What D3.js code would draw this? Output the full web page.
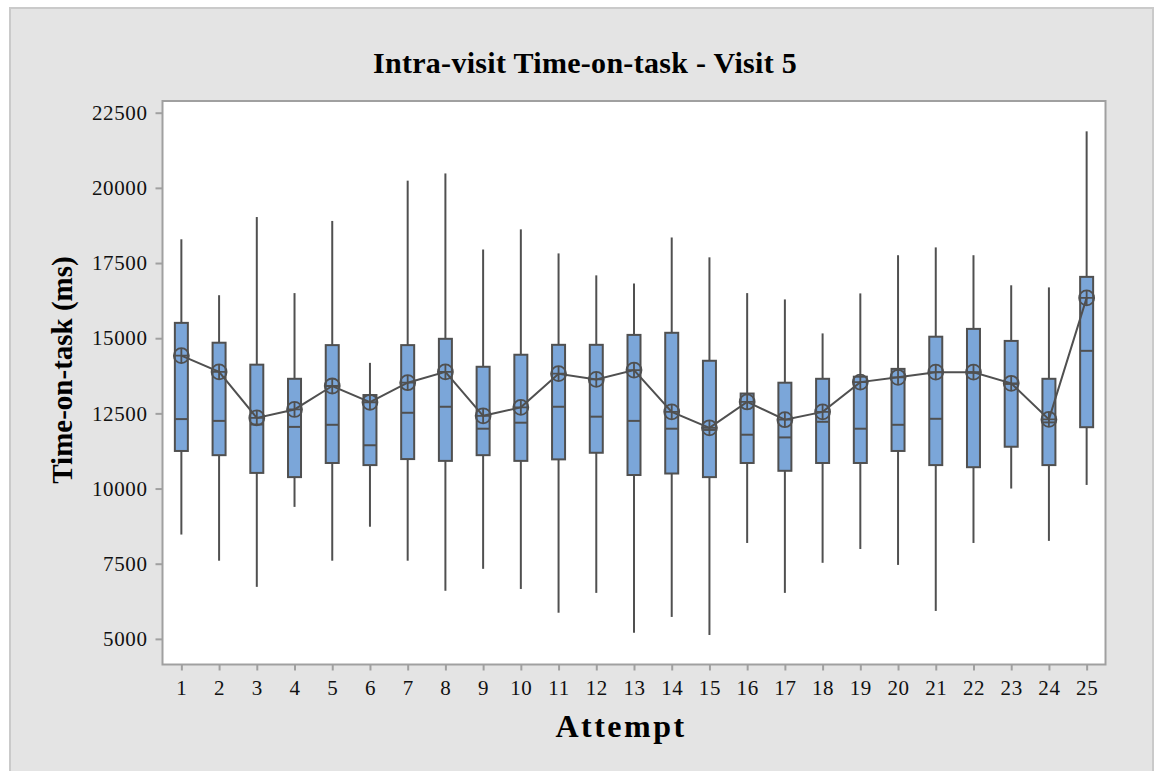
<!DOCTYPE html>
<html>
<head>
<meta charset="utf-8">
<script src="https://cdn.jsdelivr.net/npm/d3@7"></script>
<style>
    body { margin: 0; background: #ffffff; }
    svg { display: block; }
    .axis-group path, .axis-group line { stroke: #a0a0a0; stroke-width: 2; }
    .axis-group text { font-family: "Liberation Serif", "Times New Roman", serif; font-size: 21px; letter-spacing: 0.6px; fill: #111; }
</style>
</head>
<body>
<svg id="chart" width="1156" height="771"></svg>
<script>

// Data (ms)
const attempts    = d3.range(1, 26);
const whiskerHigh = [18290, 16430, 19030, 16500, 18900, 14180, 20240, 20480, 17950, 18620,
                     17820, 17090, 16820, 18350, 17690, 16500, 16290, 15160, 16490, 17760,
                     18020, 17760, 16760, 16690, 21880];
const q3          = [15510, 14850, 14120, 13650, 14770, 13110, 14770, 14980, 14050, 14450,
                     14780, 14780, 15110, 15180, 14250, 13160, 13520, 13650, 13720, 13980,
                     15050, 15310, 14910, 13650, 17040];
const medians     = [12310, 12250, 12130, 12050, 12120, 11440, 12520, 12720, 11990, 12190,
                     12720, 12390, 12250, 11990, 11950, 11790, 11700, 12220, 11990, 12120,
                     12320, 13850, 13480, 12200, 14580];
const q1          = [11250, 11110, 10520, 10380, 10850, 10780, 10980, 10920, 11110, 10920,
                     10970, 11190, 10450, 10500, 10380, 10850, 10590, 10850, 10850, 11250,
                     10780, 10710, 11390, 10780, 12040];
const whiskerLow  = [8470, 7600, 6730, 9390, 7600, 8730, 7600, 6600, 7330, 6660,
                     5870, 6530, 5200, 5730, 5130, 8190, 6530, 7530, 7990, 7460,
                     5930, 8190, 10000, 8260, 10120];
const means       = [14420, 13880, 12350, 12630, 13410, 12870, 13520, 13880, 12420, 12700,
                     13820, 13630, 13940, 12550, 12020, 12880, 12290, 12550, 13540, 13700,
                     13870, 13870, 13500, 12300, 16340];
const yTicks      = [5000, 7500, 10000, 12500, 15000, 17500, 20000, 22500];

const rows = attempts.map((a, i) => ({
    attempt: a, hi: whiskerHigh[i], q3: q3[i], med: medians[i],
    q1: q1[i], lo: whiskerLow[i], mean: means[i]
}));

const svg = d3.select("#chart");
const FONT = "'Liberation Serif', 'Times New Roman', serif";
const DARK = "#505050";

// Outer panel
svg.append("rect")
    .attr("x", 10).attr("y", 8)
    .attr("width", 1143).attr("height", 780)
    .attr("fill", "#e4e4e4")
    .attr("stroke", "#cacaca").attr("stroke-width", 2);

const margin = { top: 101, right: 1156 - 1105.5, bottom: 771 - 664.5, left: 162.5 };
const width = 1156 - margin.left - margin.right;
const height = 771 - margin.top - margin.bottom;

const x = d3.scaleLinear().domain([0.5, 25.5]).range([0, width]);
const y = d3.scaleLinear().domain([4148, 22889]).range([height, 0]);

const chart = svg.append("g")
    .attr("transform", `translate(${margin.left},${margin.top})`);

// Plot area
chart.append("rect")
    .attr("width", width).attr("height", height)
    .attr("fill", "#ffffff");

// Axes
chart.append("g")
    .classed("axis-group", true)
    .call(d3.axisLeft(y).tickValues(yTicks).tickSize(7).tickPadding(8).tickFormat(d3.format("d")))
    .call(g => g.select(".domain").remove());

chart.append("g")
    .classed("axis-group", true)
    .attr("transform", `translate(0,${height})`)
    .call(d3.axisBottom(x).tickValues(attempts).tickSize(6).tickPadding(10).tickFormat(d3.format("d")))
    .call(g => g.select(".domain").remove());

// Plot frame
chart.append("rect")
    .attr("width", width).attr("height", height)
    .attr("fill", "none")
    .attr("stroke", "#a0a0a0").attr("stroke-width", 2);

// Whiskers
chart.selectAll(".whisker-hi")
    .data(rows)
    .join("line")
    .attr("x1", d => x(d.attempt)).attr("x2", d => x(d.attempt))
    .attr("y1", d => y(d.hi)).attr("y2", d => y(d.q3))
    .attr("stroke", DARK).attr("stroke-width", 2);

chart.selectAll(".whisker-lo")
    .data(rows)
    .join("line")
    .attr("x1", d => x(d.attempt)).attr("x2", d => x(d.attempt))
    .attr("y1", d => y(d.q1)).attr("y2", d => y(d.lo))
    .attr("stroke", DARK).attr("stroke-width", 2);

// Boxes
const boxW = 13;
chart.selectAll(".box")
    .data(rows)
    .join("rect")
    .attr("x", d => x(d.attempt) - boxW / 2)
    .attr("y", d => y(d.q3))
    .attr("width", boxW)
    .attr("height", d => y(d.q1) - y(d.q3))
    .attr("fill", "#7ba6d9")
    .attr("stroke", DARK).attr("stroke-width", 2);

// Medians
chart.selectAll(".median")
    .data(rows)
    .join("line")
    .attr("x1", d => x(d.attempt) - boxW / 2).attr("x2", d => x(d.attempt) + boxW / 2)
    .attr("y1", d => y(d.med)).attr("y2", d => y(d.med))
    .attr("stroke", DARK).attr("stroke-width", 2);

// Mean connect line
chart.append("path")
    .datum(rows)
    .attr("fill", "none")
    .attr("stroke", DARK).attr("stroke-width", 2)
    .attr("d", d3.line().x(d => x(d.attempt)).y(d => y(d.mean)));

// Mean symbols: circle with cross
const sym = chart.selectAll(".mean-symbol")
    .data(rows)
    .join("g")
    .attr("transform", d => `translate(${x(d.attempt)},${y(d.mean)})`);

sym.append("circle")
    .attr("r", 7.5)
    .attr("fill", "none")
    .attr("stroke", DARK).attr("stroke-width", 1.8);

sym.append("path")
    .attr("d", "M-7.5,0H7.5M0,-7.5V7.5")
    .attr("stroke", DARK).attr("stroke-width", 1.8);

// Titles
svg.append("text")
    .attr("x", 585).attr("y", 73)
    .attr("text-anchor", "middle")
    .style("font-family", FONT).style("font-weight", "bold").style("font-size", "30px")
    .style("letter-spacing", "0.3px")
    .text("Intra-visit Time-on-task - Visit 5");

svg.append("text")
    .attr("transform", "translate(72,370) rotate(-90)")
    .attr("text-anchor", "middle")
    .style("font-family", FONT).style("font-weight", "bold").style("font-size", "29px")
    .text("Time-on-task (ms)");

svg.append("text")
    .attr("x", 621).attr("y", 737)
    .attr("text-anchor", "middle")
    .style("font-family", FONT).style("font-weight", "bold").style("font-size", "32px")
    .style("letter-spacing", "2.5px")
    .text("Attempt");

</script>
</body>
</html>
